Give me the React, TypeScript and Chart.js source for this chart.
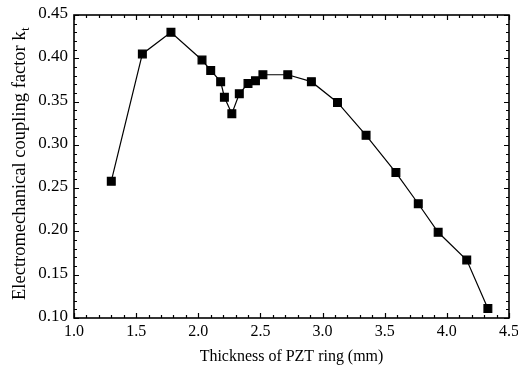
import React, { useEffect, useRef } from "react";
import { Chart, registerables } from "chart.js";

Chart.register(...registerables);

const thickness = [1.30, 1.55, 1.78, 2.03, 2.10, 2.18, 2.21, 2.27, 2.33, 2.40, 2.46, 2.52, 2.72, 2.91, 3.12, 3.35, 3.59, 3.77, 3.93, 4.16, 4.33];
const kt = [0.258, 0.405, 0.430, 0.398, 0.386, 0.373, 0.355, 0.336, 0.359, 0.371, 0.374, 0.381, 0.381, 0.373, 0.349, 0.311, 0.268, 0.232, 0.199, 0.167, 0.111];

const xTickLabels = ["1.0", "1.5", "2.0", "2.5", "3.0", "3.5", "4.0", "4.5"];
const yTickLabels = ["0.10", "0.15", "0.20", "0.25", "0.30", "0.35", "0.40", "0.45"];

const xMin = 1.0, xMax = 4.5, xStep = 0.5, xMinor = 0.1;
const yMin = 0.10, yMax = 0.45, yStep = 0.05, yMinor = 0.01;
const xTitle = "Thickness of PZT ring (mm)";
const yTitleMain = "Electromechanical coupling factor k";
const yTitleSub = "t";

const FONT = "'Liberation Serif', 'Times New Roman', serif";

const framePlugin = {
  id: "frameTicks",
  afterDraw(chart: any) {
    const { ctx, chartArea: a, scales } = chart;
    const xs = scales.x, ys = scales.y;
    ctx.save();
    ctx.strokeStyle = "#000";
    ctx.lineWidth = 1.6;
    ctx.strokeRect(a.left, a.top, a.right - a.left, a.bottom - a.top);
    ctx.lineWidth = 1.2;
    ctx.beginPath();
    const nx = Math.round((xMax - xMin) / xMinor);
    for (let i = 0; i <= nx; i++) {
      const v = xMin + i * xMinor;
      const major = i % Math.round(xStep / xMinor) === 0;
      const len = major ? 5 : 3;
      const px = Math.round(xs.getPixelForValue(v)) + 0.5;
      ctx.moveTo(px, a.bottom); ctx.lineTo(px, a.bottom - len);
      ctx.moveTo(px, a.top); ctx.lineTo(px, a.top + len);
    }
    const ny = Math.round((yMax - yMin) / yMinor);
    for (let i = 0; i <= ny; i++) {
      const v = yMin + i * yMinor;
      const major = i % Math.round(yStep / yMinor) === 0;
      const len = major ? 5 : 3;
      const py = Math.round(ys.getPixelForValue(v)) + 0.5;
      ctx.moveTo(a.left, py); ctx.lineTo(a.left + len, py);
      ctx.moveTo(a.right, py); ctx.lineTo(a.right - len, py);
    }
    ctx.stroke();

    ctx.fillStyle = "#000";
    // x tick labels
    ctx.font = `16px ${FONT}`;
    ctx.textAlign = "center";
    ctx.textBaseline = "alphabetic";
    xTickLabels.forEach((t) => {
      ctx.fillText(t, xs.getPixelForValue(parseFloat(t)), a.bottom + 18);
    });
    // y tick labels
    ctx.font = `17px ${FONT}`;
    ctx.textAlign = "right";
    yTickLabels.forEach((t) => {
      ctx.fillText(t, a.left - 6, ys.getPixelForValue(parseFloat(t)) + 3);
    });

    // x title
    ctx.save();
    ctx.font = `17px ${FONT}`;
    ctx.textAlign = "center";
    ctx.translate((a.left + a.right) / 2, 361);
    ctx.scale(0.94, 1);
    ctx.fillText(xTitle, 0, 0);
    ctx.restore();

    // y title
    ctx.translate(25, 164);
    ctx.rotate(-Math.PI / 2);
    ctx.font = `18.5px ${FONT}`;
    const wMain = ctx.measureText(yTitleMain).width;
    ctx.font = `12px ${FONT}`;
    const wSub = ctx.measureText(yTitleSub).width;
    const total = wMain + wSub;
    ctx.textAlign = "left";
    ctx.font = `18.5px ${FONT}`;
    ctx.fillText(yTitleMain, -total / 2, 0);
    ctx.font = `12px ${FONT}`;
    ctx.fillText(yTitleSub, -total / 2 + wMain + 0.5, 4);
    ctx.restore();
  },
};

export default function App() {
  const ref = useRef<HTMLCanvasElement | null>(null);
  useEffect(() => {
    document.body.style.margin = "0";
    const canvas = ref.current!;
    const chart = new Chart(canvas, {
      type: "scatter",
      data: {
        datasets: [
          {
            data: thickness.map((x, i) => ({ x, y: kt[i] })),
            showLine: true,
            borderColor: "#000",
            backgroundColor: "#000",
            borderWidth: 1.2,
            pointStyle: "rect",
            pointRadius: 5.5,
            pointHoverRadius: 5.5,
            tension: 0,
          },
        ],
      },
      options: {
        animation: false,
        responsive: false,
        devicePixelRatio: 1,
        layout: { padding: { top: 15, right: 9, left: 0, bottom: 0 } },
        plugins: { legend: { display: false }, tooltip: { enabled: false } },
        scales: {
          x: {
            type: "linear",
            min: xMin,
            max: xMax,
            ticks: { display: false, stepSize: xStep },
            grid: { display: false },
            border: { display: false },
            afterFit: (s: any) => { s.height = 376 - 318; },
          },
          y: {
            type: "linear",
            min: yMin,
            max: yMax,
            ticks: { display: false, stepSize: yStep },
            grid: { display: false },
            border: { display: false },
            afterFit: (s: any) => { s.width = 74; },
          },
        },
      },
      plugins: [framePlugin],
    });
    return () => chart.destroy();
  }, []);
  return (
    <div style={{ width: 518, height: 376 }}>
      <canvas ref={ref} width={518} height={376} />
    </div>
  );
}
